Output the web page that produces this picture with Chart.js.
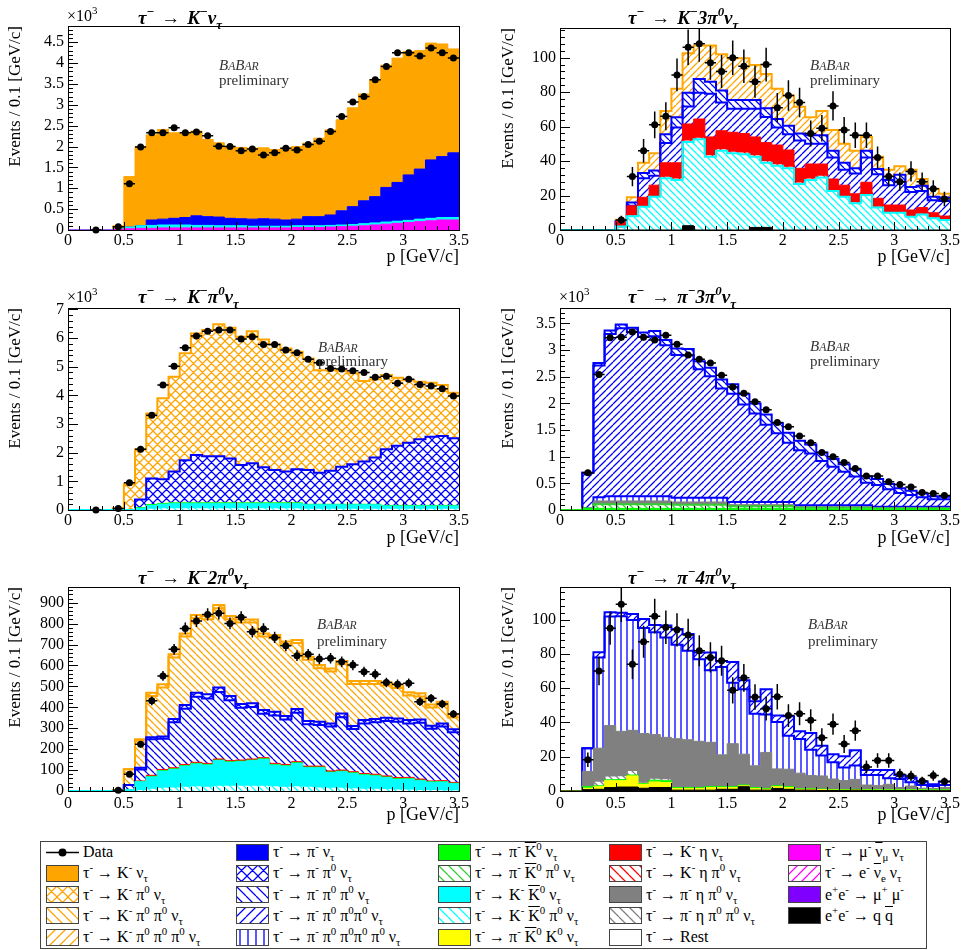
<!DOCTYPE html>
<html>
<head>
<meta charset="utf-8">
<title>tau decay momentum spectra</title>
<script src="https://cdn.jsdelivr.net/npm/chart.js@4.4.1/dist/chart.umd.min.js"></script>
<style>
  body { margin: 0; background: #fff; font-family: "Liberation Serif", "DejaVu Serif", serif; color: #000; }
  #page { position: relative; width: 967px; height: 950px; overflow: hidden; background: #fff; }
  canvas.panel { position: absolute; }
  .txt { position: absolute; white-space: nowrap; line-height: 20px; }
  .ttl { font-size: 19px; font-weight: bold; font-style: italic; }
  .ttl .arr { font-style: normal; margin: 0 7px; }
  .exp { font-size: 16px; }
  .babar { font-size: 15px; color: #333; font-style: italic; }
  .babar small { font-size: 0.78em; }
  .prelim { font-size: 15px; color: #333; }
  sup, sub { font-size: 0.68em; line-height: 0; }
  sup { vertical-align: 0.6em; }
  sub { vertical-align: -0.4em; }
  .ov { text-decoration: overline; }
  #legend { position: absolute; left: 40px; top: 841px; width: 885px; height: 106px; border: 1px solid #444; }
  .lg { font-size: 16px; }
  canvas.sw { position: absolute; }
</style>
</head>
<body>
<div id="page">
  <div class="txt ttl" style="left:138px;top:8px">τ<sup>−</sup><span class="arr">→</span>K<sup>−</sup>ν<sub>τ</sub></div>
  <div class="txt ttl" style="left:628px;top:8px">τ<sup>−</sup><span class="arr">→</span>K<sup>−</sup>3π<sup>0</sup>ν<sub>τ</sub></div>
  <div class="txt ttl" style="left:138px;top:287px">τ<sup>−</sup><span class="arr">→</span>K<sup>−</sup>π<sup>0</sup>ν<sub>τ</sub></div>
  <div class="txt ttl" style="left:628px;top:287px">τ<sup>−</sup><span class="arr">→</span>π<sup>−</sup>3π<sup>0</sup>ν<sub>τ</sub></div>
  <div class="txt ttl" style="left:138px;top:568px">τ<sup>−</sup><span class="arr">→</span>K<sup>−</sup>2π<sup>0</sup>ν<sub>τ</sub></div>
  <div class="txt ttl" style="left:628px;top:568px">τ<sup>−</sup><span class="arr">→</span>π<sup>−</sup>4π<sup>0</sup>ν<sub>τ</sub></div>

  <div class="txt exp" style="left:67px;top:6px">×10<sup>3</sup></div>
  <div class="txt exp" style="left:67px;top:287px">×10<sup>3</sup></div>
  <div class="txt exp" style="left:559px;top:287px">×10<sup>3</sup></div>

  <div class="txt babar" style="left:219px;top:55px">B<small>A</small>B<small>AR</small></div>
  <div class="txt prelim" style="left:219px;top:70px">preliminary</div>
  <div class="txt babar" style="left:810px;top:55px">B<small>A</small>B<small>AR</small></div>
  <div class="txt prelim" style="left:810px;top:70px">preliminary</div>
  <div class="txt babar" style="left:318px;top:337px">B<small>A</small>B<small>AR</small></div>
  <div class="txt prelim" style="left:318px;top:351px">preliminary</div>
  <div class="txt babar" style="left:810px;top:336px">B<small>A</small>B<small>AR</small></div>
  <div class="txt prelim" style="left:810px;top:351px">preliminary</div>
  <div class="txt babar" style="left:317px;top:614px">B<small>A</small>B<small>AR</small></div>
  <div class="txt prelim" style="left:317px;top:631px">preliminary</div>
  <div class="txt babar" style="left:808px;top:614px">B<small>A</small>B<small>AR</small></div>
  <div class="txt prelim" style="left:808px;top:631px">preliminary</div>

  <div id="legend"></div>
</div>
<script>
// ---- binning: 35 bins of 0.1 GeV/c from 0 to 3.5 ----
const edges = Array.from({length: 36}, (_, i) => i / 10);
const centers = Array.from({length: 35}, (_, i) => (2 * i + 1) / 20);

// ---- tau -> K- nu (x10^3) ----
const p1MuNu = [0,0,0,0,0.01, 0.03,0.04,0.04,0.05,0.05, 0.05,0.05,0.05,0.05,0.05, 0.05,0.05,0.05,0.05,0.05, 0.06,0.06,0.06,0.07,0.08, 0.09,0.1,0.12,0.14,0.16, 0.18,0.2,0.22,0.24,0.24];
const p1KK0 = [0,0,0,0,0.01, 0.04,0.06,0.07,0.07,0.07, 0.07,0.06,0.06,0.05,0.05, 0.05,0.04,0.04,0.04,0.04, 0.04,0.04,0.04,0.04,0.04, 0.04,0.05,0.05,0.05,0.05, 0.05,0.06,0.06,0.06,0.06];
const p1PiNu = [0,0,0,0,0, 0,0,0.13,0.14,0.16, 0.18,0.23,0.21,0.21,0.18, 0.17,0.17,0.18,0.17,0.15, 0.16,0.22,0.22,0.25,0.34, 0.43,0.55,0.63,0.83,0.93, 1.09,1.2,1.4,1.46,1.55];
const p1KNu = [0,0,0,0,0.08, 1.21,1.9,2.04,2.15,2.05, 2.04,2.03,1.85,1.78,1.72, 1.71,1.7,1.7,1.67,1.72, 1.74,1.76,1.88,2.04,2.18, 2.37,2.56,2.81,2.93,2.98, 2.96,2.84,2.8,2.7,2.49];
const p1Data = [null,null,0,null,0.08, 1.11,1.99,2.33,2.33,2.45, 2.33,2.35,2.26,2.01,2.0, 1.9,1.94,1.8,1.85,1.96, 1.92,2.05,2.13,2.36,2.72, 3.07,3.2,3.6,3.92,4.25, 4.25,4.17,4.36,4.25,4.12];

// ---- tau -> K- 3pi0 nu ----
const p2QQ = [0,0,0,0,0, 0,0,0,0,0, 0,2.5,0,0,0, 0,0,1.5,1.5,0, 0,0,0,0,0, 0,0,0,0,0, 0,0,0,0,0];
const p2KK0Pi0 = [0,0,0,0,0, 2,8,13.5,19.3,30, 29,48.5,52.6,42.5,46, 44.5,44,41,37.5,37.3, 35.8,26.7,29,30.5,22.6, 19.3,15.5,20.3,13,10, 10,7.7,9,6.8,5.8];
const p2KEtaPi0 = [0,0,0,0,0, 0,1,1,1,1.5, 1.5,1.5,1.5,1.5,1.5, 1.5,1.5,1.5,1.5,1.5, 1.5,1.5,1.5,1.5,1, 1,1,1,1,1, 1,1,1,1,1];
const p2KEta = [0,0,0,0,0, 3,5,4.5,5.7,7.5, 8.5,9,10.3,10,10.1, 10.7,10.5,10,10.2,10.5, 9.1,7.6,7.8,6.3,6, 5.7,4.5,6.4,4.4,3.5, 3.5,2.9,3,2.2,1.3];
const p2Pi3Pi0 = [0,0,0,0,0, 0,0,11,5.5,11.5, 20.4,10.2,15.2,25,16.4, 13.7,14.4,16.4,14.9,10.1, 9.1,16.2,11.7,11.7,12.4, 9,11.8,14.3,14,11.5, 13.5,10.4,9.7,7.3,8.7];
const p2Pi2Pi0 = [0,0,0,0,0, 0,2,3,3,5, 6,8,8,7,7, 5,5,5,5,5, 5,4,5,5,4, 4,3,4,3,3, 4,3,3,2,2];
const p2K3Pi0 = [0,0,0,0,0, 1,3,6,10,13.5, 16.6,22.8,19.4,21,21, 24.2,24.2,20.3,19.9,17.6, 17.5,15.5,10.4,14,12, 11,10.2,8,7.1,6, 5,10,3.9,4.7,2.2];
const p2Data = [null,null,null,null,null, 5.8,31,46,61,66, 90,106,108,97,92, 100,95,86,96,71, 78,74,56,59,72, 58,55,55,42,31, 28,34,28,24,18];

// ---- tau -> K- pi0 nu (x10^3) ----
const p3KK0Pi0 = [0,0,0,0,0, 0,0.03,0.08,0.1,0.1, 0.1,0.1,0.1,0.1,0.1, 0.1,0.1,0.1,0.1,0.1, 0.1,0.08,0.08,0.08,0.08, 0.08,0.08,0.08,0.08,0.08, 0.08,0.08,0.08,0.08,0.08];
const p3KK0 = [0,0,0,0,0, 0,0.03,0.08,0.1,0.12, 0.12,0.12,0.12,0.12,0.12, 0.12,0.12,0.12,0.12,0.12, 0.12,0.1,0.1,0.1,0.1, 0.1,0.1,0.1,0.06,0.06, 0.06,0.06,0.06,0.06,0.06];
const p3PiK0 = [0,0,0,0,0, 0,0.02,0.03,0.03,0.03, 0.03,0.03,0.03,0.03,0.03, 0.03,0.03,0.03,0.03,0.03, 0.03,0.02,0.02,0.02,0.02, 0.02,0.02,0.02,0.02,0.02, 0.02,0.02,0.02,0.02,0.02];
const p3PiPi0 = [0,0,0,0,0, 0,0.29,0.91,0.84,1.09, 1.49,1.67,1.63,1.63,1.55, 1.32,1.38,1.24,1.15,1.09, 1.17,1.2,1.1,1.17,1.31, 1.4,1.49,1.63,1.96,2.08, 2.19,2.31,2.4,2.42,2.34];
const p3KPi0 = [0,0,0,0,0.06, 0.9,1.75,2.27,2.83,3.31, 3.73,4.24,4.4,4.6,4.56, 4.48,4.61,4.46,4.38,4.3, 4.1,3.89,3.58,3.51,3.35, 3.17,2.81,2.73,2.59,2.38, 2.18,2.01,1.88,1.78,1.59];
const p3Data = [null,null,0,null,0.05, 0.95,2.12,3.31,4.36,5.02, 5.66,6.07,6.24,6.28,6.28, 5.97,6.05,5.78,5.78,5.58, 5.49,5.26,5.14,4.94,4.92, 4.86,4.8,4.63,4.67,4.42, 4.56,4.38,4.33,4.23,3.98];

// ---- tau -> pi- 3pi0 nu (x10^3) ----
const p4PiK0 = [0,0,0.03,0.03,0.03, 0.03,0.03,0.03,0.03,0.03, 0.03,0.03,0.03,0.03,0.03, 0.03,0.03,0.03,0.03,0.03, 0.03,0.02,0.02,0.02,0.02, 0.02,0.02,0.02,0.02,0.02, 0.02,0.02,0.02,0.02,0.02];
const p4PiK0Pi0 = [0,0,0,0.08,0.08, 0.08,0.08,0.08,0.08,0.08, 0.07,0.07,0.07,0.07,0.07, 0.04,0.04,0.04,0.04,0.04, 0.04,0.02,0.02,0.02,0.02, 0.02,0.02,0.02,0.01,0.01, 0.01,0.01,0.01,0.01,0.01];
const p4PiEtaPi0 = [0,0,0,0.06,0.06, 0.06,0.06,0.06,0.06,0.06, 0.05,0.05,0.05,0.05,0.05, 0.03,0.03,0.03,0.03,0.03, 0.03,0.02,0.02,0.02,0.02, 0.02,0.02,0.02,0.01,0.01, 0.01,0.01,0.01,0.01,0.01];
const p4Pi4Pi0 = [0,0,0,0.07,0.09, 0.09,0.09,0.09,0.09,0.09, 0.08,0.08,0.08,0.08,0.08, 0.05,0.05,0.05,0.05,0.05, 0.05,0.03,0.03,0.03,0.03, 0.03,0.03,0.03,0.02,0.02, 0.02,0.02,0.02,0.02,0.02];
const p4Pi3Pi0 = [0,0,0.67,2.47,3.04, 3.15,3.08,2.99,3.0,2.83, 2.68,2.67,2.41,2.28,2.05, 2.03,1.83,1.66,1.45,1.29, 1.11,1.03,0.97,0.83,0.72, 0.63,0.54,0.42,0.41,0.33, 0.26,0.22,0.18,0.14,0.14];
const p4Pi2Pi0 = [0,0,0,0.05,0.07, 0.07,0.08,0.08,0.1,0.1, 0.12,0.12,0.15,0.16,0.17, 0.18,0.19,0.19,0.19,0.19, 0.19,0.18,0.17,0.16,0.15, 0.14,0.13,0.12,0.11,0.1, 0.09,0.08,0.07,0.06,0.05];
const p4Data = [null,null,0.7,2.54,3.23, 3.24,3.34,3.24,3.19,3.28, 3.11,2.91,2.83,2.76,2.53, 2.31,2.19,2.03,1.88,1.64, 1.56,1.39,1.26,1.08,1.0, 0.89,0.78,0.64,0.64,0.53, 0.48,0.43,0.33,0.31,0.27];

// ---- tau -> K- 2pi0 nu ----
const p5KK0Pi0 = [0,0,0,0,0, 3,10,15,20,22, 25,28,25,30,30, 30,30,30,28,25, 28,25,22,20,20, 18,16,15,14,12, 12,10,10,8,8];
const p5KK0 = [0,0,0,0,0, 2,34,52,75,81, 94,101,99,115,107, 110,115,121,96,94, 104,86,89,68,72, 66,60,57,50,44, 45,39,32,35,27];
const p5PiK0 = [0,0,0,0,0, 0,2,3,3,3, 3,3,3,3,3, 3,3,3,3,3, 3,3,3,3,3, 3,3,3,3,3, 3,3,2,2,2];
const p5KEta = [0,0,0,0,0, 0,2,5,5,5, 5,5,5,5,5, 5,5,5,5,5, 5,5,5,5,5, 5,5,5,5,5, 5,5,4,4,4];
const p5Pi2Pi0 = [0,0,0,0,0, 24,55,172,147,218, 266,313,310,320,289, 250,248,210,229,215, 234,200,197,212,253, 204,239,248,262,267, 258,269,249,259,240];
const p5PiPi0 = [0,0,0,0,0, 0,8,10,10,15, 18,20,20,22,20, 18,18,18,18,16, 18,16,15,15,18, 15,16,16,16,16, 16,16,15,15,14];
const p5K2Pi0 = [0,0,0,0,2, 74.5,131,197,235,294, 327,356,359,379,367, 389,386,351,351,341, 315,292,256,248,235, 200,172,167,154,145, 118,110,87,89,56];
const p5KPi0 = [0,0,0,0,0, 0,5,15,15,15, 15,15,15,15,15, 15,15,15,15,15, 15,15,15,15,15, 15,15,15,15,15, 15,15,15,15,15];
const p5Data = [null,null,null,null,3, 80,223,431,550,677, 777,812,844,849,801, 830,761,774,734,694, 647,653,631,634,618, 602,570,558,519,510, 515,427,443,416,368];

// ---- tau -> pi- 4pi0 nu ----
const p6QQ = [0,0,0.8,1,2, 2.3,2.3,1.6,2,2, 0.5,0.5,0.5,0.5,1, 1,2.5,0.5,0.5,1.5, 1,0.5,0.5,0.3,0.3, 0.3,0.5,0.3,0.3,0.3, 0.3,0.3,0.3,0.2,0.2];
const p6PiK0K0 = [0,0,0.8,1.5,4, 3.7,6.5,2.3,3.3,3, 1,1,1,1.5,1, 1,0.5,1,0.5,1, 1,0.5,0.5,0.5,0.3, 0.2,0.2,0.2,0.2,0.2, 0.2,0.2,0.2,0.2,0.2];
const p6PiK0 = [0,0,0.9,0.5,0.5, 0.7,0.5,0.5,1,1, 0.5,0.5,0.5,0.5,0.5, 0.5,0.5,0.5,0.5,0.5, 0.5,0.3,0.3,0.3,0.3, 0.3,0.3,0.3,0.3,0.3, 0.3,0.3,0.3,0.3,0.3];
const p6PiEta2Pi0 = [0,0,0,3,2.5, 2.5,3,1,1.5,1.5, 0.5,0,0,0,0, 0,0,0,0,0, 0,0,0,0,0, 0,0,0,0,0, 0,0,0,0,0];
const p6PiEtaPi0 = [0,0,8.9,19,29.2, 25.6,23.1,28.1,25.1,23.8, 28,27.9,27,25.9,18.6, 25.1,18,12.7,21,9.9, 10.2,9.1,7.7,7.7,6.1, 5.3,5.8,2.7,2.3,3.1, 1.2,2.1,0.8,0.9,1.3];
const p6Pi4Pi0 = [0,0,13.6,52.9,63.6, 67.2,64.4,61.6,59.7,58.3, 54.8,51.9,47.9,42.1,51.3, 35.6,37.8,30.3,22.1,27.4, 19.6,19.9,15.1,11.9,9.8, 7.6,8.1,5.9,6.3,3.5, 5,2.2,1.9,1.3,1.5];
const p6Pi3Pi0 = [0,0,0,3,2.5, 2,3.5,5.3,4.3,6.9, 9.2,9.8,3.9,10.3,3.5, 12.1,5.3,7.4,14.7,3.7, 11.3,4.5,9.8,5.7,4.7, 6.5,8.8,2.9,2.9,4.9, 2.4,2.7,2,1,2];
const p6Data = [null,null,18.2,70,95, 109,74,87,102,95.5, 94,91,81.8,77.9,76, 58.7,66,54.8,48,55, 44,45,41.3,31,39, 27.4,35.2,14,17.8,17.8, 9.8,8.8,5.9,9,5.5];

// ---- component styles: colour + hatch ('' solid, '/', '\\', 'x' cross, '|' vertical) ----
const ORANGE = '#ffa500', BLUE = '#0000ff', CYAN = '#00ffff', GREEN = '#00ff00', GREENH = '#33cc33',
      RED = '#ff0000', GRAY = '#808080', YELLOW = '#ffff00', MAGENTA = '#ff00ff', PURPLE = '#8000ff';
const comps = {
  kNu: [ORANGE, ''], kPi0: [ORANGE, 'x'], k2Pi0: [ORANGE, '\\'], k3Pi0: [ORANGE, '/'],
  piNu: [BLUE, ''], piPi0: [BLUE, 'x'], pi2Pi0: [BLUE, '\\'], pi3Pi0: [BLUE, '/'], pi4Pi0: [BLUE, '|'],
  piK0: [GREEN, ''], piK0Pi0: [GREENH, '\\'], kK0: [CYAN, ''], kK0Pi0: [CYAN, '\\'], piK0K0: [YELLOW, ''],
  kEta: [RED, ''], kEtaPi0: [RED, '\\'], piEtaPi0: [GRAY, ''], piEta2Pi0: [GRAY, '\\'], rest: ['#ffffff', ''],
  muNu: [MAGENTA, ''], eNu: [MAGENTA, '/'], mumu: [PURPLE, ''], qq: ['#000000', '']
};

// hatch tile; lines a bit wider than 1px so the colour survives
function hatch(color, kind, s) {
  const c = document.createElement('canvas');
  c.width = s; c.height = s;
  const g = c.getContext('2d');
  g.strokeStyle = color;
  g.lineWidth = kind === '|' ? 1.3 : 1.25;
  g.beginPath();
  if (kind === '/' || kind === 'x') for (let k = 0; k < 3; k++) { g.moveTo(k * s - s, s); g.lineTo(k * s, 0); }
  if (kind === '\\' || kind === 'x') for (let k = 0; k < 3; k++) { g.moveTo(k * s - s, 0); g.lineTo(k * s, s); }
  if (kind === '|') { g.moveTo(s / 2, 0); g.lineTo(s / 2, s); }
  g.stroke();
  return g.createPattern(c, 'repeat');
}
function fillFor(key, big) {
  const [color, kind] = comps[key];
  if (!kind) return color;
  const s = kind === 'x' ? (big ? 11 : 9) : kind === '|' ? (big ? 8 : 6) : (big ? 10 : 7);
  return hatch(color, kind, s);
}

// ---- frame, inward ROOT-like ticks and data error bars ----
const rootAxes = {
  id: 'rootAxes',
  afterDatasetsDraw(chart, args, opts) {
    const {ctx, chartArea: a, scales: {x, y}} = chart;
    ctx.save();
    // error bars (sqrt N)
    ctx.beginPath();
    ctx.rect(a.left, a.top, a.right - a.left, a.bottom - a.top);
    ctx.clip();
    ctx.strokeStyle = '#000';
    ctx.lineWidth = 1.5;
    chart.data.datasets.forEach(ds => {
      if (!ds.isData) return;
      ctx.beginPath();
      ds.data.forEach(p => {
        if (p.y === null) return;
        const e = Math.sqrt(p.y * ds.unit) / ds.unit;
        const px = x.getPixelForValue(p.x), py = y.getPixelForValue(p.y);
        ctx.moveTo(x.getPixelForValue(p.x - 0.05), py);
        ctx.lineTo(x.getPixelForValue(p.x + 0.05), py);
        ctx.moveTo(px, y.getPixelForValue(p.y - e));
        ctx.lineTo(px, y.getPixelForValue(p.y + e));
      });
      ctx.stroke();
    });
    ctx.restore();

    ctx.save();
    ctx.strokeStyle = '#000';
    ctx.lineWidth = 1;
    ctx.beginPath();
    for (let i = 0; i <= 35; i++) {
      const px = Math.round(x.getPixelForValue(i / 10)) + 0.5;
      const len = i % 5 === 0 ? 8 : 4;
      ctx.moveTo(px, a.bottom);
      ctx.lineTo(px, a.bottom - len);
    }
    const nMinor = Math.round(opts.ystep / opts.yminor);
    for (let i = 0; i * opts.yminor <= y.max + 1e-9; i++) {
      const py = Math.round(y.getPixelForValue(i * opts.yminor)) + 0.5;
      const len = i % nMinor === 0 ? 10 : 5;
      ctx.moveTo(a.left, py);
      ctx.lineTo(a.left + len, py);
    }
    ctx.stroke();
    ctx.strokeRect(Math.round(a.left) + 0.5, Math.round(a.top) + 0.5,
                   Math.round(a.right - a.left), Math.round(a.bottom - a.top));
    ctx.restore();
  }
};

const panels = [
  {box: [0, 0, 480, 272], top: 26, right: 21, yw: 68, xh: 42, ymax: 4.89, ystep: 0.5, yminor: 0.1, unit: 1000, yPad: 5, xPad: 4, tickPad: 1,
   stack: [['muNu', p1MuNu], ['kK0', p1KK0], ['piNu', p1PiNu], ['kNu', p1KNu]], data: p1Data},
  {box: [480, 0, 487, 272], top: 28, right: 17, yw: 80, xh: 42, ymax: 117.2, ystep: 20, yminor: 4, unit: 1, yPad: 18, xPad: 4, tickPad: 1,
   stack: [['qq', p2QQ], ['kK0Pi0', p2KK0Pi0], ['kEtaPi0', p2KEtaPi0], ['kEta', p2KEta], ['pi3Pi0', p2Pi3Pi0], ['pi2Pi0', p2Pi2Pi0], ['k3Pi0', p2K3Pi0]], data: p2Data},
  {box: [0, 278, 480, 275], top: 30, right: 21, yw: 68, xh: 43, ymax: 7.05, ystep: 1, yminor: 0.2, unit: 1000, yPad: 5, xPad: 4, tickPad: 1,
   stack: [['kK0Pi0', p3KK0Pi0], ['kK0', p3KK0], ['piK0', p3PiK0], ['piPi0', p3PiPi0], ['kPi0', p3KPi0]], data: p3Data},
  {box: [480, 278, 487, 275], top: 30, right: 17, yw: 80, xh: 43, ymax: 3.79, ystep: 0.5, yminor: 0.1, unit: 1000, yPad: 18, xPad: 4, tickPad: 1,
   stack: [['piK0', p4PiK0], ['piK0Pi0', p4PiK0Pi0], ['piEtaPi0', p4PiEtaPi0], ['pi4Pi0', p4Pi4Pi0], ['pi3Pi0', p4Pi3Pi0], ['pi2Pi0', p4Pi2Pi0]], data: p4Data},
  {box: [0, 556, 480, 272], top: 31, right: 21, yw: 68, xh: 37, ymax: 975, ystep: 100, yminor: 20, unit: 1, yPad: 5, xPad: 2, tickPad: 3,
   stack: [['kK0Pi0', p5KK0Pi0], ['kK0', p5KK0], ['piK0', p5PiK0], ['kEta', p5KEta], ['pi2Pi0', p5Pi2Pi0], ['piPi0', p5PiPi0], ['k2Pi0', p5K2Pi0], ['kPi0', p5KPi0]], data: p5Data},
  {box: [480, 556, 487, 272], top: 31, right: 17, yw: 80, xh: 37, ymax: 119, ystep: 20, yminor: 4, unit: 1, yPad: 18, xPad: 2, tickPad: 3,
   stack: [['qq', p6QQ], ['piK0K0', p6PiK0K0], ['piK0', p6PiK0], ['piEta2Pi0', p6PiEta2Pi0], ['piEtaPi0', p6PiEtaPi0], ['pi4Pi0', p6Pi4Pi0], ['pi3Pi0', p6Pi3Pi0]], data: p6Data}
];

Chart.defaults.font.family = '"Liberation Serif", "DejaVu Serif", serif';
Chart.defaults.color = '#000';

const page = document.getElementById('page');
const plain = v => String(+v.toFixed(3));

panels.forEach(p => {
  const cv = document.createElement('canvas');
  cv.className = 'panel';
  cv.width = p.box[2];
  cv.height = p.box[3];
  cv.style.left = p.box[0] + 'px';
  cv.style.top = p.box[1] + 'px';
  page.insertBefore(cv, page.firstChild);

  const datasets = p.stack.map(([key, vals], i) => ({
    data: edges.map((e, j) => ({x: e, y: vals[Math.min(j, vals.length - 1)]})),
    stack: 'mc',
    stepped: true,
    pointRadius: 0,
    borderColor: comps[key][0],
    borderWidth: comps[key][1] ? 2 : 1,
    backgroundColor: fillFor(key, false),
    fill: i === 0 ? 'origin' : '-1',
    clip: 0
  }));
  datasets.push({
    data: centers.map((c, j) => ({x: c, y: p.data[j]})),
    stack: 'data',
    showLine: false,
    pointRadius: 3.5,
    pointBackgroundColor: '#000',
    pointBorderWidth: 0,
    clip: false,
    order: -1,
    isData: true,
    unit: p.unit
  });

  new Chart(cv, {
    type: 'line',
    data: {datasets},
    options: {
      responsive: false,
      animation: false,
      devicePixelRatio: 1,
      layout: {padding: {left: 0, top: p.top, right: p.right, bottom: 0}},
      plugins: {
        legend: {display: false},
        tooltip: {enabled: false},
        rootAxes: {ystep: p.ystep, yminor: p.yminor}
      },
      scales: {
        x: {
          type: 'linear', min: 0, max: 3.5,
          grid: {display: false, drawTicks: false}, border: {display: false},
          ticks: {stepSize: 0.5, padding: p.tickPad, maxRotation: 0, autoSkip: false, font: {size: 16}, callback: plain},
          title: {display: true, text: 'p [GeV/c]', align: 'end', font: {size: 18}, padding: {top: 0, bottom: p.xPad}},
          afterFit: s => { s.height = p.xh; }
        },
        y: {
          stacked: true, min: 0, max: p.ymax,
          grid: {display: false, drawTicks: false}, border: {display: false},
          ticks: {stepSize: p.ystep, includeBounds: false, padding: 4, font: {size: 16}, callback: plain},
          title: {display: true, text: 'Events / 0.1 [GeV/c]', align: 'end', font: {size: 17}, padding: {top: p.yPad, bottom: 0}},
          afterFit: s => { s.width = p.yw; }
        }
      }
    },
    plugins: [rootAxes]
  });
});

// ---- legend ----
const T = 'τ<sup>-</sup> → ';
const KB = '<span class="ov">K</span><sup>0</sup>';
const legendCols = [46, 236, 438, 609, 788];
const legendItems = [
  [0, 0, 'data', 'Data'],
  [0, 1, 'kNu', T + 'K<sup>-</sup> ν<sub>τ</sub>'],
  [0, 2, 'kPi0', T + 'K<sup>-</sup> π<sup>0</sup> ν<sub>τ</sub>'],
  [0, 3, 'k2Pi0', T + 'K<sup>-</sup> π<sup>0</sup> π<sup>0</sup> ν<sub>τ</sub>'],
  [0, 4, 'k3Pi0', T + 'K<sup>-</sup> π<sup>0</sup> π<sup>0</sup> π<sup>0</sup> ν<sub>τ</sub>'],
  [1, 0, 'piNu', T + 'π<sup>-</sup> ν<sub>τ</sub>'],
  [1, 1, 'piPi0', T + 'π<sup>-</sup> π<sup>0</sup> ν<sub>τ</sub>'],
  [1, 2, 'pi2Pi0', T + 'π<sup>-</sup> π<sup>0</sup> π<sup>0</sup> ν<sub>τ</sub>'],
  [1, 3, 'pi3Pi0', T + 'π<sup>-</sup> π<sup>0</sup> π<sup>0</sup>π<sup>0</sup> ν<sub>τ</sub>'],
  [1, 4, 'pi4Pi0', T + 'π<sup>-</sup> π<sup>0</sup> π<sup>0</sup>π<sup>0</sup> π<sup>0</sup> ν<sub>τ</sub>'],
  [2, 0, 'piK0', T + 'π<sup>-</sup> ' + KB + ' ν<sub>τ</sub>'],
  [2, 1, 'piK0Pi0', T + 'π<sup>-</sup> ' + KB + ' π<sup>0</sup> ν<sub>τ</sub>'],
  [2, 2, 'kK0', T + 'K<sup>-</sup> ' + KB + ' ν<sub>τ</sub>'],
  [2, 3, 'kK0Pi0', T + 'K<sup>-</sup> ' + KB + ' π<sup>0</sup> ν<sub>τ</sub>'],
  [2, 4, 'piK0K0', T + 'π<sup>-</sup> ' + KB + ' K<sup>0</sup> ν<sub>τ</sub>'],
  [3, 0, 'kEta', T + 'K<sup>-</sup> η ν<sub>τ</sub>'],
  [3, 1, 'kEtaPi0', T + 'K<sup>-</sup> η π<sup>0</sup> ν<sub>τ</sub>'],
  [3, 2, 'piEtaPi0', T + 'π<sup>-</sup> η π<sup>0</sup> ν<sub>τ</sub>'],
  [3, 3, 'piEta2Pi0', T + 'π<sup>-</sup> η π<sup>0</sup> π<sup>0</sup> ν<sub>τ</sub>'],
  [3, 4, 'rest', T + 'Rest'],
  [4, 0, 'muNu', T + 'μ<sup>-</sup> <span class="ov">ν</span><sub>μ</sub> ν<sub>τ</sub>'],
  [4, 1, 'eNu', T + 'e<sup>-</sup> <span class="ov">ν</span><sub>e</sub> ν<sub>τ</sub>'],
  [4, 2, 'mumu', 'e<sup>+</sup>e<sup>-</sup> → μ<sup>+</sup> μ<sup>-</sup>'],
  [4, 3, 'qq', 'e<sup>+</sup>e<sup>-</sup> → q <span class="ov">q</span>']
];

legendItems.forEach(([col, row, key, label]) => {
  const x = legendCols[col];
  const yc = 852 + row * 21.25;
  const sw = document.createElement('canvas');
  sw.className = 'sw';
  sw.width = 33; sw.height = 17;
  sw.style.left = x + 'px';
  sw.style.top = Math.round(yc - 8.5) + 'px';
  const g = sw.getContext('2d');
  if (key === 'data') {
    g.strokeStyle = '#000'; g.lineWidth = 1.5;
    g.beginPath(); g.moveTo(0, 8.5); g.lineTo(33, 8.5); g.stroke();
    g.fillStyle = '#000';
    g.beginPath(); g.arc(16.5, 8.5, 4, 0, 2 * Math.PI); g.fill();
  } else {
    g.fillStyle = '#fff'; g.fillRect(0, 0, 33, 17);
    g.fillStyle = fillFor(key, true); g.fillRect(1, 1, 31, 15);
    g.strokeStyle = '#444'; g.lineWidth = 1;
    g.strokeRect(0.5, 0.5, 32, 16);
  }
  page.appendChild(sw);
  const t = document.createElement('div');
  t.className = 'txt lg';
  t.style.left = (x + 37) + 'px';
  t.style.top = Math.round(yc - 10) + 'px';
  t.innerHTML = label;
  page.appendChild(t);
});
</script>
</body>
</html>
